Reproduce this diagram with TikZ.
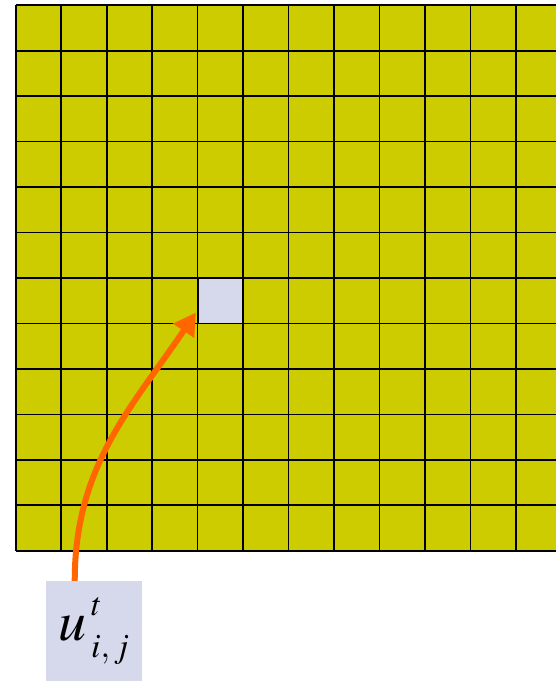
\documentclass[tikz,border=0pt]{standalone}
\usepackage{mathptmx}
\usepackage{tikz}
\usetikzlibrary{positioning,arrows.meta}
\definecolor{cellfill}{HTML}{CCCC00}
\definecolor{markfill}{HTML}{D6D8EC}
\definecolor{pointer}{HTML}{FF6600}

\begin{document}
\begin{tikzpicture}[x=1pt, y=1pt,
        cell/.style={rectangle, fill=cellfill, minimum size=45.45pt, inner sep=0pt},
        markcell/.style={cell, fill=markfill, draw=black, line width=1.6pt},
        gridline/.style={black, line width=1.6pt},
        valbox/.style={rectangle, fill=markfill, minimum width=96pt,
        minimum height=100pt, inner sep=0pt, font=\fontsize{56}{60}\selectfont},
        pointarr/.style={-{Triangle[length=22pt, width=24pt]}, pointer,
        line width=6pt, shorten >=2pt},
      ]
      \useasboundingbox (0,0) rectangle (556,681);
      \clip (0,0) rectangle (556,681);

      % =================== GRID ===================
      \foreach \col in {0,...,12}{
        \foreach \row in {0,...,11}{
          \node[cell] (c-\col-\row) at ({16+(\col+0.5)*45.45}, {675.5-(\row+0.5)*45.45}) {};
        }
      }
      \foreach \col in {0,...,12}
        \draw[gridline] (c-\col-0.north west) -- (c-\col-11.south west);
      \foreach \row in {0,...,11}
        \draw[gridline] (c-0-\row.north west) -- (c-12-\row.north east);
      \draw[gridline] (c-0-11.south west) -- (c-12-11.south east);

      % highlighted cell
      \node[markcell] (target) at (c-4-6) {};

      % =================== VALUE LABEL ===================
      \node[valbox] (val) at (94, 50) {$u$\kern0.08em\rlap{\raisebox{0.45em}{\fontsize{33}{33}\selectfont$t$}}%
        \raisebox{-0.3em}{\fontsize{34}{34}\selectfont$i,j$}};

      \draw[pointarr] (val.111) to[out=90, in=236] (target.203);

    \end{tikzpicture}
\end{document}
